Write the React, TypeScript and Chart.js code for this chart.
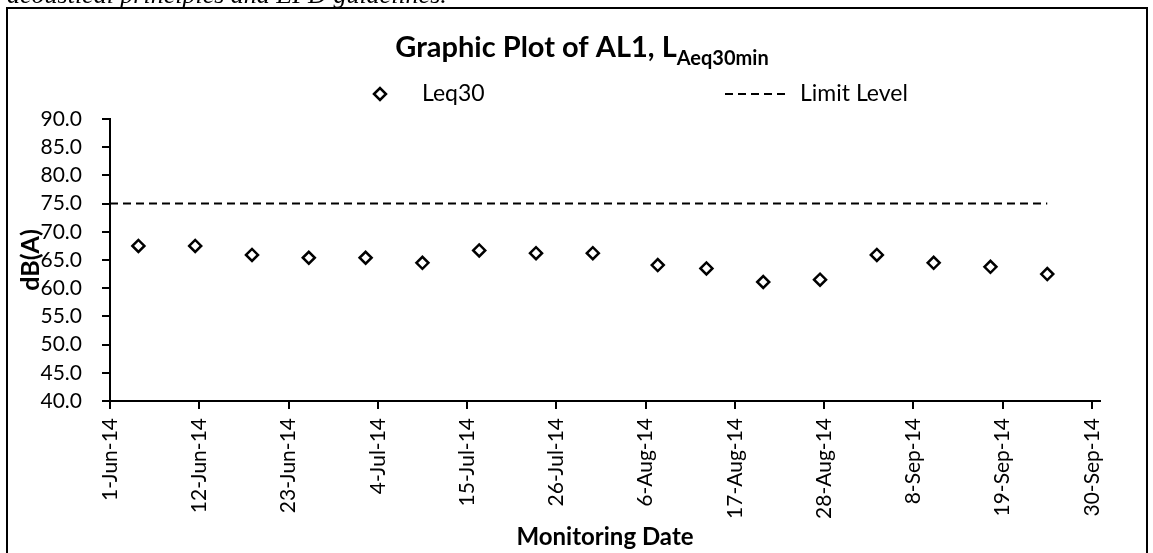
import React, { useEffect, useRef } from "react";
import { Chart, registerables } from "chart.js";

Chart.register(...registerables);

// ---------- data ----------
const START_DATE = "2014-06-01T00:00:00Z";
const measurementDates = [
  "2014-06-04T12:00:00Z", "2014-06-11T12:00:00Z", "2014-06-18T12:00:00Z", "2014-06-25T12:00:00Z",
  "2014-07-02T12:00:00Z", "2014-07-09T12:00:00Z", "2014-07-16T12:00:00Z", "2014-07-23T12:00:00Z",
  "2014-07-30T12:00:00Z", "2014-08-07T12:00:00Z", "2014-08-13T12:00:00Z", "2014-08-20T12:00:00Z",
  "2014-08-27T12:00:00Z", "2014-09-03T12:00:00Z", "2014-09-10T12:00:00Z", "2014-09-17T12:00:00Z",
  "2014-09-24T12:00:00Z",
];
const leq30Values = [67.5, 67.5, 65.9, 65.4, 65.4, 64.5, 66.7, 66.2, 66.2, 64.1, 63.5, 61.1, 61.5, 65.9, 64.5, 63.8, 62.5];
const limitDates = ["2014-06-01T00:00:00Z", "2014-09-24T12:00:00Z"];
const limitValues = [75, 75];
const xTickDays = [0, 11, 22, 33, 44, 55, 66, 77, 88, 99, 110, 121];
const xTickLabels = [
  "1-Jun-14", "12-Jun-14", "23-Jun-14", "4-Jul-14", "15-Jul-14", "26-Jul-14",
  "6-Aug-14", "17-Aug-14", "28-Aug-14", "8-Sep-14", "19-Sep-14", "30-Sep-14",
];
const X_MAX_DAY = 122;
const Y_MIN = 40;
const Y_MAX = 90;
const Y_STEP = 5;

const TITLE_MAIN = "Graphic Plot of AL1, L";
const TITLE_SUB = "Aeq30min";
const SERIES_NAME = "Leq30";
const LIMIT_NAME = "Limit Level";
const X_TITLE = "Monitoring Date";
const Y_TITLE = "dB(A)";
const CAPTION = "acoustical principles and EPD guidelines.";

const DAY_MS = 86400000;
const toDay = (s: string) => (Date.parse(s) - Date.parse(START_DATE)) / DAY_MS;

const FONT = "Lato";

const overlayPlugin = {
  id: "overlay",
  afterDraw(chart: any) {
    const ctx = chart.ctx as CanvasRenderingContext2D;
    const area = chart.chartArea;
    ctx.save();
    ctx.fillStyle = "#000";
    ctx.strokeStyle = "#000";

    // caption text from the surrounding document (cut off at the top)
    ctx.textBaseline = "alphabetic";
    ctx.textAlign = "left";
    ctx.font = `italic 26px 'Liberation Serif', serif`;
    ctx.fillText(CAPTION, 7, 2.5);

    // title with subscript
    ctx.font = `bold 29px ${FONT}`;
    const w1 = ctx.measureText(TITLE_MAIN).width;
    ctx.font = `bold 20px ${FONT}`;
    const w2 = ctx.measureText(TITLE_SUB).width;
    const tx = 582 - (w1 + w2) / 2;
    ctx.font = `bold 29px ${FONT}`;
    ctx.fillText(TITLE_MAIN, tx, 57);
    ctx.font = `bold 20px ${FONT}`;
    ctx.fillText(TITLE_SUB, tx + w1, 64.5);

    // legend
    const ly = 94;
    ctx.lineWidth = 2.5;
    ctx.fillStyle = "#fff";
    ctx.beginPath();
    const r = 6;
    ctx.moveTo(380 - r, ly);
    ctx.lineTo(380, ly - r);
    ctx.lineTo(380 + r, ly);
    ctx.lineTo(380, ly + r);
    ctx.closePath();
    ctx.fill();
    ctx.stroke();
    ctx.fillStyle = "#000";
    ctx.font = `23px ${FONT}`;
    ctx.textBaseline = "middle";
    ctx.fillText(SERIES_NAME, 422, ly);
    ctx.lineWidth = 2;
    ctx.setLineDash([8, 5]);
    ctx.beginPath();
    ctx.moveTo(725, ly);
    ctx.lineTo(790, ly);
    ctx.stroke();
    ctx.setLineDash([]);
    ctx.fillText(LIMIT_NAME, 800, ly);

    // axis titles
    ctx.font = `bold 24px ${FONT}`;
    ctx.textAlign = "center";
    ctx.textBaseline = "alphabetic";
    ctx.fillText(X_TITLE, (area.left + area.right) / 2, 545);
    ctx.save();
    ctx.font = `bold 25px ${FONT}`;
    ctx.translate(31, (area.top + area.bottom) / 2);
    ctx.rotate(-Math.PI / 2);
    ctx.textBaseline = "middle";
    ctx.fillText(Y_TITLE, 0, 0);
    ctx.restore();

    // outer frame of the figure box
    ctx.lineWidth = 2;
    ctx.strokeStyle = "#000";
    ctx.beginPath();
    ctx.moveTo(7, 600);
    ctx.lineTo(7, 8);
    ctx.lineTo(1147, 8);
    ctx.lineTo(1147, 600);
    ctx.stroke();

    ctx.restore();
  },
};

export default function App() {
  const canvasRef = useRef<HTMLCanvasElement | null>(null);

  useEffect(() => {
    if (!canvasRef.current) return;
    Chart.defaults.font.family = FONT;
    const chart = new Chart(canvasRef.current, {
      type: "scatter",
      data: {
        datasets: [
          {
            label: LIMIT_NAME,
            data: limitDates.map((d, i) => ({ x: toDay(d), y: limitValues[i] })),
            showLine: true,
            borderColor: "#000",
            borderWidth: 2,
            borderDash: [8, 5],
            pointRadius: 0,
            fill: false,
          },
          {
            label: SERIES_NAME,
            data: measurementDates.map((d, i) => ({ x: toDay(d), y: leq30Values[i] })),
            pointStyle: "rectRot",
            pointRadius: 6,
            pointBorderWidth: 2.5,
            pointBorderColor: "#000",
            pointBackgroundColor: "#fff",
            showLine: false,
          },
        ],
      },
      options: {
        animation: false,
        responsive: false,
        maintainAspectRatio: false,
        layout: { padding: { left: 0, top: 119, right: 53, bottom: 0 } },
        plugins: {
          legend: { display: false },
          title: { display: false },
          tooltip: { enabled: false },
        },
        scales: {
          x: {
            type: "linear",
            min: 0,
            max: X_MAX_DAY,
            afterBuildTicks: (s: any) => {
              s.ticks = xTickDays.map((v) => ({ value: v }));
            },
            afterFit: (s: any) => {
              s.height = 152;
            },
            ticks: {
              autoSkip: false,
              maxRotation: 90,
              minRotation: 90,
              padding: 9,
              color: "#000",
              font: { family: FONT, size: 21 },
              callback: (v: any) => {
                const i = xTickDays.indexOf(Number(v));
                return i >= 0 ? xTickLabels[i] : "";
              },
            },
            grid: { display: true, drawOnChartArea: false, drawTicks: true, tickLength: 8, color: "#000", lineWidth: 2 },
            border: { display: true, color: "#000", width: 2 },
          },
          y: {
            type: "linear",
            min: Y_MIN,
            max: Y_MAX,
            afterFit: (s: any) => {
              s.width = 110;
            },
            ticks: {
              stepSize: Y_STEP,
              padding: 20,
              color: "#000",
              font: { family: FONT, size: 21 },
              callback: (v: any) => Number(v).toFixed(1),
            },
            grid: { display: true, drawOnChartArea: false, drawTicks: true, tickLength: 8, color: "#000", lineWidth: 2 },
            border: { display: true, color: "#000", width: 2 },
          },
        },
      },
      plugins: [overlayPlugin],
    });
    return () => chart.destroy();
  }, []);

  return (
    <div style={{ position: "absolute", left: 0, top: 0, width: 1153, height: 553, overflow: "hidden", background: "#fff" }}>
      <canvas ref={canvasRef} width={1153} height={553} style={{ position: "absolute", left: 0, top: 0, width: 1153, height: 553 }} />
    </div>
  );
}
